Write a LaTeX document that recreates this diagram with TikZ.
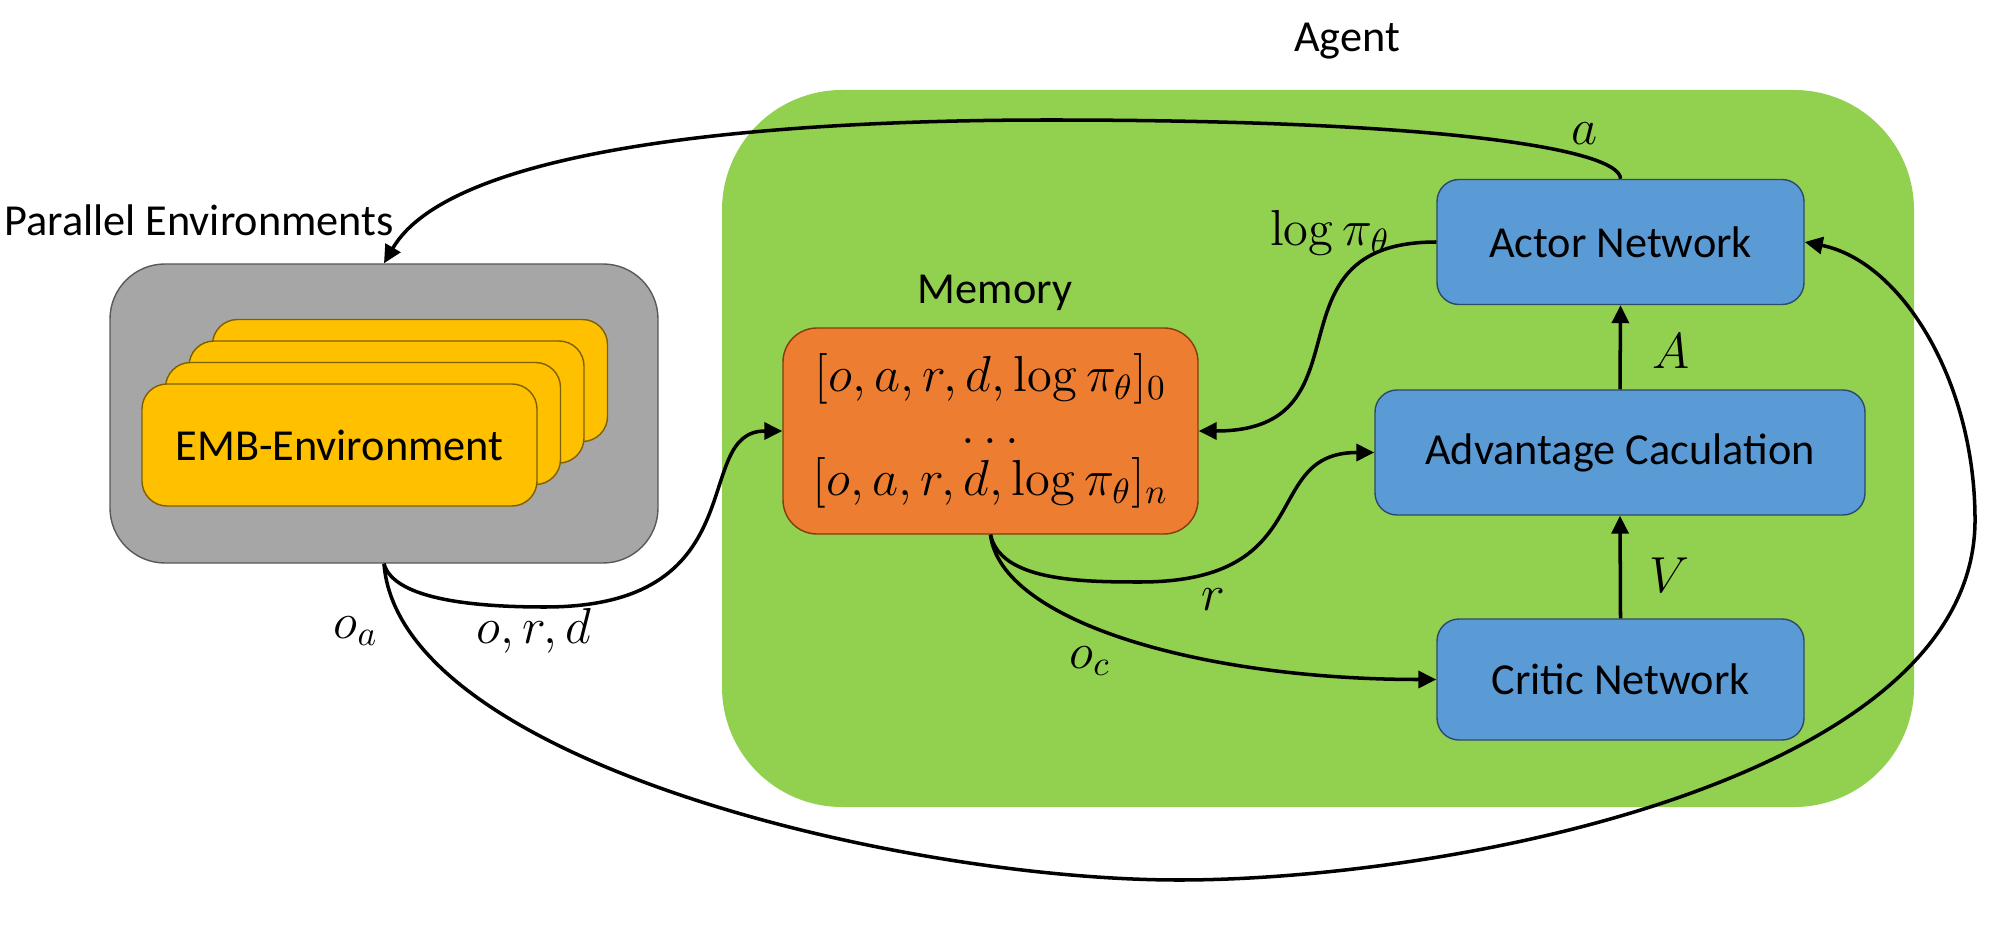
\documentclass[tikz,border=0pt]{standalone}
\usepackage[no-math]{fontspec}
\setmainfont{Carlito}
\usetikzlibrary{arrows.meta}
\definecolor{agentgreen}{HTML}{92D050}
\definecolor{envgray}{HTML}{A6A6A6}
\definecolor{envedge}{HTML}{595959}
\definecolor{embyellow}{HTML}{FFC000}
\definecolor{embedge}{HTML}{7F6000}
\definecolor{memorange}{HTML}{ED7D31}
\definecolor{memedge}{HTML}{843C0C}
\definecolor{netblue}{HTML}{5B9BD5}
\definecolor{netedge}{HTML}{2E4A6B}

\begin{document}
\begin{tikzpicture}[
  txt/.style={font=\fontsize{12.6}{15}\selectfont},
  mlbl/.style={font=\fontsize{14}{15}\selectfont},
  embbox/.style={draw=embedge, fill=embyellow, rounded corners=0.25cm, minimum width=3.95cm, minimum height=1.22cm, inner sep=0pt},
  netbox/.style={draw=netedge, fill=netblue, rounded corners=0.22cm, minimum height=1.25cm, inner sep=0pt, txt},
  flow/.style={-{Triangle[length=1.8mm,width=1.7mm]}, line width=1pt},
]
  \useasboundingbox (0,0) rectangle (19.92,9.26);
  \node[fill=agentgreen, rounded corners=1.2cm, minimum width=11.92cm, minimum height=7.17cm] (agentbox) at (13.18,4.775) {};
  \node[txt] (agent) at (13.47,8.85) {Agent};
  \node[draw=envedge, fill=envgray, rounded corners=0.55cm, minimum width=5.48cm, minimum height=2.99cm] (envbox) at (3.84,5.125) {};
  \node[txt, anchor=west] (parallel) at (-0.08,7.06) {Parallel Environments};
  \foreach \i in {3,2,1}
    \node[embbox, xshift=\i*2.35mm, yshift=\i*2.15mm] (emb\i) at (3.395,4.81) {};
  \node[embbox, txt] (env) at (3.395,4.81) {EMB-Environment};

  \node[draw=memedge, fill=memorange, rounded corners=0.34cm, minimum width=4.15cm, minimum height=2.06cm, inner sep=0pt, align=center, font=\fontsize{14}{14.8}\selectfont] (memory) at (9.905,4.95)
    {$[o,a,r,d,\log\pi_\theta]_0$\\$\ldots$\\$[o,a,r,d,\log\pi_\theta]_n$};
  \node[txt] (memlabel) at (9.95,6.33) {Memory};

  \node[netbox, minimum width=3.67cm] (actor) at (16.205,6.84) {Actor Network};
  \node[netbox, minimum width=4.9cm] (adv) at (16.2,4.735) {Advantage Caculation};
  \node[netbox, minimum width=3.67cm, minimum height=1.21cm] (critic) at (16.205,2.465) {Critic Network};

  \draw[flow] (adv.north) -- (actor.south);
  \draw[flow] (critic.north) -- (adv.south);
  \draw[flow] (actor.north) .. controls (16.2,7.76) and (14.5,8.06) .. (10.5,8.06)
    .. controls (7.5,8.06) and (4.5,7.76) .. (envbox.north);
  \draw[flow] (actor.west) to[out=180,in=0,looseness=1.5] (memory.east);
  \draw[flow] (memory.south) .. controls +(0.1,-0.46) and +(-0.6,0) .. (11.40,3.44)
    .. controls +(1.8,0) and +(-1.15,0) .. (adv.west);
  \draw[flow] (memory.south) .. controls +(0.1,-0.86) and +(-2.37,0) .. (critic.west);
  \draw[flow] (envbox.south) .. controls +(0.1,-0.37) and +(-0.65,0) .. (5.45,3.19)
    .. controls +(2.15,0) and +(-0.93,0) .. (memory.west);
  \draw[flow] (envbox.south) .. controls +(0.15,-1.97) and +(-2.79,0) .. (11.79,0.46)
    .. controls +(2.71,0) and +(0,-2.6) .. (19.75,4.06)
    .. controls +(0,1.4) and +(0.96,-0.19) .. (actor.east);

  \node[mlbl] (alab) at (15.84,7.92) {$a$};
  \node[mlbl] (loglab) at (13.3,6.93) {$\log\pi_\theta$};
  \node[mlbl] (Alab) at (16.71,5.75) {$A$};
  \node[mlbl] (Vlab) at (16.69,3.51) {$V$};
  \node[mlbl] (rlab) at (12.13,3.26) {$r$};
  \node[mlbl] (oclab) at (10.9,2.65) {$o_c$};
  \node[mlbl] (oalab) at (3.56,2.95) {$o_a$};
  \node[mlbl] (ordlab) at (5.34,2.95) {$o,r,d$};
\end{tikzpicture}
\end{document}
